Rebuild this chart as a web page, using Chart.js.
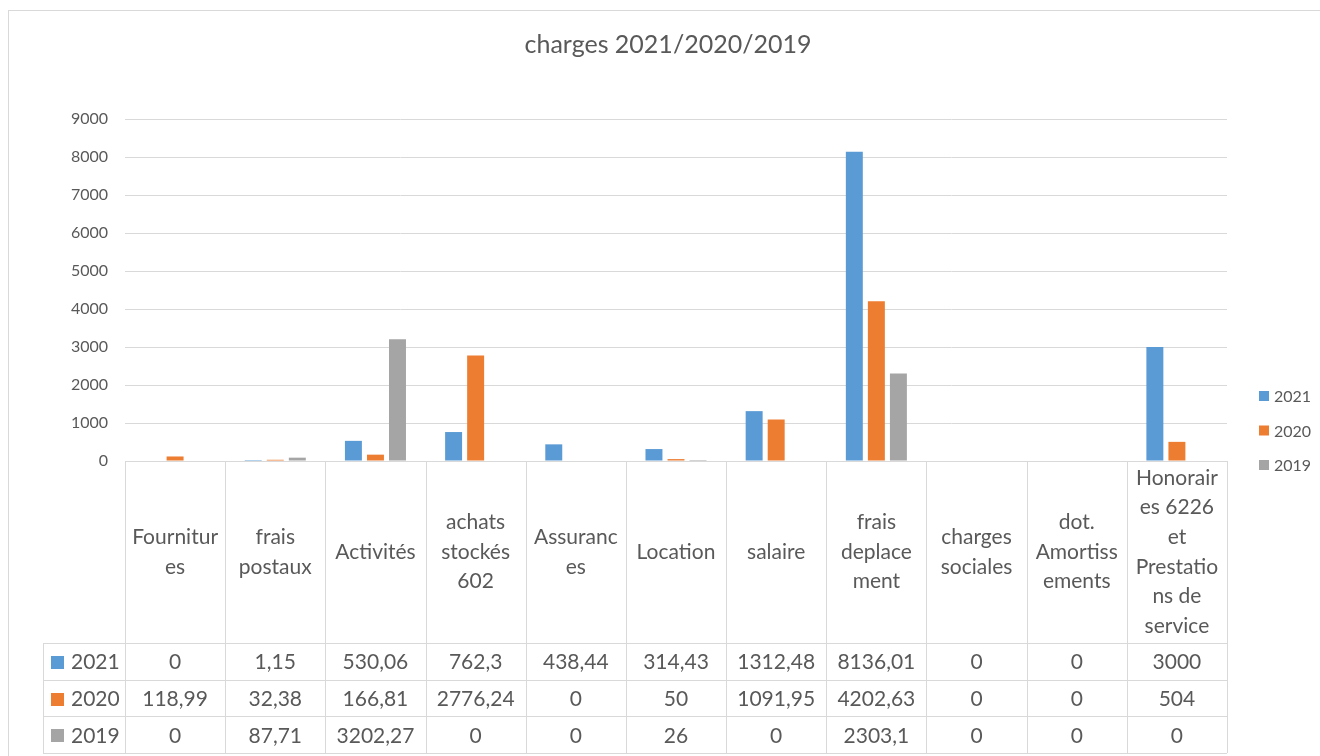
<!DOCTYPE html>
<html>
<head>
<meta charset="utf-8">
<script src="https://cdn.jsdelivr.net/npm/chart.js@4/dist/chart.umd.min.js"></script>
<style>
html,body{margin:0;padding:0;background:#fff;}
canvas{display:block;}
</style>
</head>
<body>
<canvas id="c" width="1320" height="756"></canvas>
<script>
const categories = [
  ["Fournitur","es"],
  ["frais","postaux"],
  ["Activités"],
  ["achats","stockés","602"],
  ["Assuranc","es"],
  ["Location"],
  ["salaire"],
  ["frais","deplace","ment"],
  ["charges","sociales"],
  ["dot.","Amortiss","ements"],
  ["Honorair","es 6226","et","Prestatio","ns de","service"]
];
const seriesNames = ["2021","2020","2019"];
const values2021 = [0, 1.15, 530.06, 762.3, 438.44, 314.43, 1312.48, 8136.01, 0, 0, 3000];
const values2020 = [118.99, 32.38, 166.81, 2776.24, 0, 50, 1091.95, 4202.63, 0, 0, 504];
const values2019 = [0, 87.71, 3202.27, 0, 0, 26, 0, 2303.1, 0, 0, 0];
const yTicks = [0,1000,2000,3000,4000,5000,6000,7000,8000,9000];
const titleText = "charges 2021/2020/2019";

const colors = ["#5B9BD5","#ED7D31","#A5A5A5"];
const allValues = [values2021, values2020, values2019];
const FONT = "Lato, 'Open Sans', sans-serif";
const TXT = "#595959";
const LINE = "#d9d9d9";

function fmt(v){ return String(v).replace('.', ','); }

const tablePlugin = {
  id: 'tablePlugin',
  beforeDraw(chart){
    const ctx = chart.ctx;
    ctx.save();
    ctx.strokeStyle = LINE;
    ctx.lineWidth = 1;
    ctx.strokeRect(8.5, 10.5, 1340, 800);
    ctx.restore();
  },
  afterDraw(chart){
    const ctx = chart.ctx;
    const xs = chart.scales.x;
    const n = categories.length;
    const w = (xs.right - xs.left) / n;
    const top = chart.chartArea.bottom;
    const headerH = 182;
    const rowH = 36.7;
    const keyLeft = 43;
    const hdrBottom = top + headerH;
    ctx.save();
    // title
    ctx.fillStyle = TXT;
    ctx.font = "25px " + FONT;
    ctx.textAlign = "center";
    ctx.textBaseline = "middle";
    ctx.fillText(titleText, 668, 45);

    ctx.strokeStyle = LINE;
    ctx.lineWidth = 1;
    // vertical lines
    for (let i = 0; i <= n; i++) {
      const x = Math.round(xs.left + i * w) + 0.5;
      ctx.beginPath();
      ctx.moveTo(x, top);
      ctx.lineTo(x, hdrBottom + rowH * 3);
      ctx.stroke();
    }
    ctx.beginPath();
    ctx.moveTo(keyLeft + 0.5, hdrBottom);
    ctx.lineTo(keyLeft + 0.5, hdrBottom + rowH * 3);
    ctx.stroke();
    // horizontal lines
    for (let r = 0; r <= 3; r++) {
      const y = Math.round(hdrBottom + r * rowH) + 0.5;
      ctx.beginPath();
      ctx.moveTo(keyLeft, y);
      ctx.lineTo(xs.right, y);
      ctx.stroke();
    }
    // header text
    ctx.fillStyle = TXT;
    ctx.font = "21px " + FONT;
    ctx.textAlign = "center";
    ctx.textBaseline = "middle";
    const lh = 29.7;
    const midH = top + headerH / 2;
    categories.forEach((lines, i) => {
      const cx = xs.left + (i + 0.5) * w;
      const start = midH - (lines.length - 1) * lh / 2;
      lines.forEach((t, k) => ctx.fillText(t, cx, start + k * lh));
    });
    // rows
    allValues.forEach((vals, r) => {
      const cy = hdrBottom + (r + 0.5) * rowH + 1;
      ctx.fillStyle = colors[r];
      ctx.fillRect(51, Math.round(cy - 6.5), 13, 13);
      ctx.fillStyle = TXT;
      ctx.textAlign = "left";
      ctx.fillText(seriesNames[r], 71, cy);
      ctx.textAlign = "center";
      vals.forEach((v, i) => {
        const cx = xs.left + (i + 0.5) * w;
        ctx.fillText(fmt(v), cx, cy);
      });
    });
    // right legend
    ctx.font = "16px " + FONT;
    ctx.textAlign = "left";
    const ly = [396, 430.5, 465];
    seriesNames.forEach((s, r) => {
      ctx.fillStyle = colors[r];
      ctx.fillRect(1259, ly[r] - 5, 10, 10);
      ctx.fillStyle = TXT;
      ctx.fillText(s, 1274, ly[r] + 1);
    });
    ctx.restore();
  }
};

new Chart(document.getElementById('c'), {
  type: 'bar',
  data: {
    labels: categories,
    datasets: seriesNames.map((s, i) => ({
      label: s,
      data: allValues[i],
      backgroundColor: colors[i],
      borderWidth: 0,
      categoryPercentage: 0.66,
      barPercentage: 0.77
    }))
  },
  options: {
    responsive: false,
    devicePixelRatio: 1,
    animation: false,
    layout: { padding: { left: 0, right: 93, top: 119, bottom: 295 } },
    plugins: {
      legend: { display: false },
      tooltip: { enabled: false },
      title: { display: false }
    },
    scales: {
      x: {
        ticks: { display: false },
        grid: { display: false },
        border: { display: true, color: LINE, width: 1 },
        afterFit(s){ s.height = 0; }
      },
      y: {
        min: 0,
        max: 9000,
        afterBuildTicks(s){ s.ticks = yTicks.map(v => ({ value: v })); },
        ticks: { color: TXT, font: { family: FONT, size: 16 }, padding: 17,
                 callback: (v) => String(v) },
        grid: { color: LINE, drawTicks: false, tickLength: 0 },
        border: { display: false },
        afterFit(s){ s.width = 125; }
      }
    }
  },
  plugins: [tablePlugin]
});
</script>
</body>
</html>
